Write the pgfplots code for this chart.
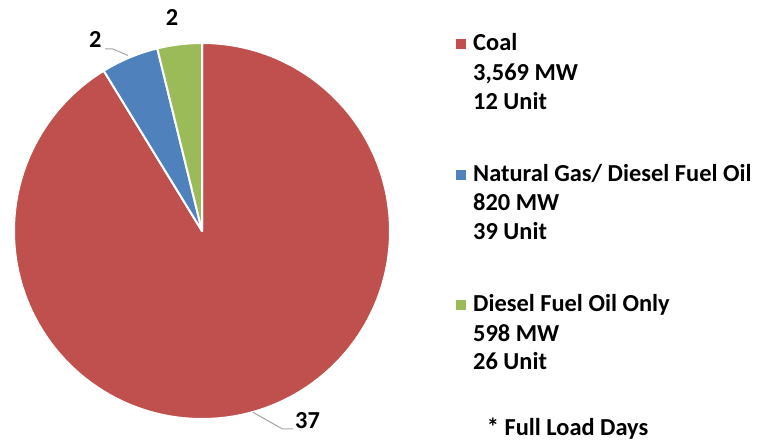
\documentclass[border=0pt]{standalone}
\usepackage{pgfplots}
\pgfplotsset{compat=1.18}
\usepackage{pgfplotstable}
\usepackage{fontspec}
\setmainfont{Carlito}
\definecolor{coal}{HTML}{C0504D}
\definecolor{gas}{HTML}{4F81BD}
\definecolor{oil}{HTML}{9BBB59}
\definecolor{leader}{HTML}{A6A6A6}

\pgfplotstableread{
name value
Coal 37.0
Gas 2.0
Oil 1.55
}\piedata

\begin{document}
\begin{tikzpicture}[font=\fontsize{24.5}{29}\selectfont\bfseries]
\pgfplotstablegetelem{0}{value}\of\piedata \xdef\vA{\pgfplotsretval}
\pgfplotstablegetelem{1}{value}\of\piedata \xdef\vB{\pgfplotsretval}
\pgfplotstablegetelem{2}{value}\of\piedata \xdef\vC{\pgfplotsretval}
\pgfmathsetmacro{\tot}{\vA+\vB+\vC}\xdef\tot{\tot}
\pgfmathsetmacro{\aA}{90-360*\vA/\tot}\xdef\aA{\aA}
\pgfmathsetmacro{\aB}{\aA-360*\vB/\tot}\xdef\aB{\aB}
\pgfmathsetmacro{\aC}{\aB-360*\vC/\tot}\xdef\aC{\aC}
\begin{axis}[width=757bp,height=441bp,scale only axis,hide axis,
  xmin=0,xmax=757,ymin=0,ymax=441,clip=false]
\path (axis cs:0,0) rectangle (axis cs:757,441);
\filldraw[fill=coal,draw=white,line width=2bp,line join=round] (axis cs:202,210) -- ++(90:188bp) arc[start angle=90,end angle=\aA,radius=188bp] -- cycle;
\filldraw[fill=gas,draw=white,line width=2bp,line join=round] (axis cs:202,210) -- ++(\aA:188bp) arc[start angle=\aA,end angle=\aB,radius=188bp] -- cycle;
\filldraw[fill=oil,draw=white,line width=2bp,line join=round] (axis cs:202,210) -- ++(\aB:188bp) arc[start angle=\aB,end angle=\aC,radius=188bp] -- cycle;
% leader lines
\draw[leader,line width=1bp] (axis cs:105,392) -- (axis cs:113,392) -- (axis cs:128,385.5);
\draw[leader,line width=1bp] (axis cs:253,28.7) -- (axis cs:282.5,12) -- (axis cs:293,12);
% data labels
\node[anchor=base,inner sep=0pt] at (axis cs:95.3,393) {\pgfmathprintnumber[fixed,precision=0,assume math mode=true]{\vB}};
\node[anchor=base,inner sep=0pt] at (axis cs:172,415) {\pgfmathprintnumber[fixed,precision=0,assume math mode=true]{\vC}};
\node[anchor=base,inner sep=0pt] at (axis cs:307.5,13) {\pgfmathprintnumber[fixed,precision=0,assume math mode=true]{\vA}};
% legend
\fill[coal] (axis cs:456,392) rectangle (axis cs:466,402);
\fill[gas] (axis cs:456,261) rectangle (axis cs:466,271);
\fill[oil] (axis cs:456,131) rectangle (axis cs:466,141);
\node[anchor=base west,inner sep=0pt] at (axis cs:473,390) {Coal};
\node[anchor=base west,inner sep=0pt] at (axis cs:473,360) {3,569 MW};
\node[anchor=base west,inner sep=0pt] at (axis cs:473,331) {12 Unit};
\node[anchor=base west,inner sep=0pt] at (axis cs:473,259.5) {Natural Gas/ Diesel Fuel Oil};
\node[anchor=base west,inner sep=0pt] at (axis cs:473,230.5) {820 MW};
\node[anchor=base west,inner sep=0pt] at (axis cs:473,201) {39 Unit};
\node[anchor=base west,inner sep=0pt] at (axis cs:473,129.5) {Diesel Fuel Oil Only};
\node[anchor=base west,inner sep=0pt] at (axis cs:473,99.5) {598 MW};
\node[anchor=base west,inner sep=0pt] at (axis cs:473,71) {26 Unit};
\node[anchor=base west,inner sep=0pt] at (axis cs:486.7,6) {* Full Load Days};
\end{axis}
\end{tikzpicture}
\end{document}
